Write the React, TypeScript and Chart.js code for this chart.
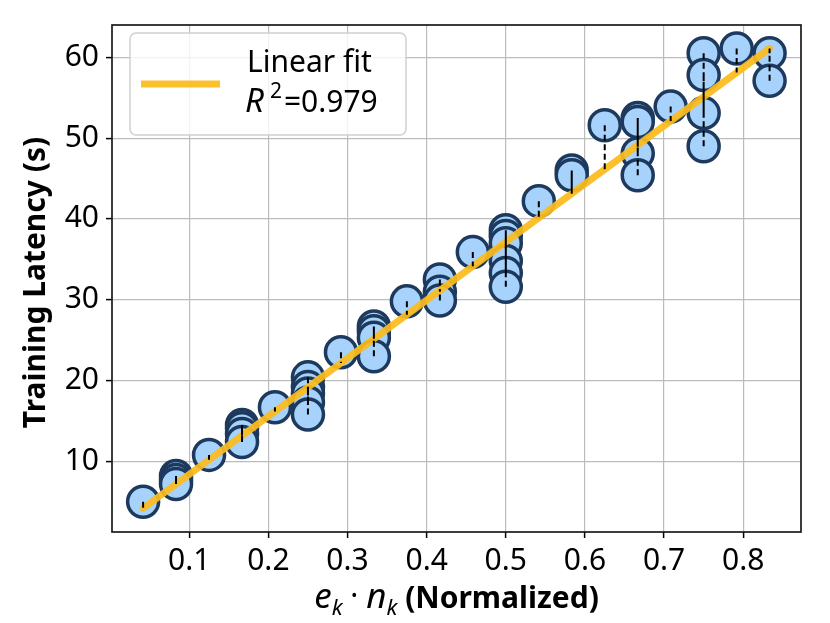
import { useEffect, useRef } from 'react';
import { Chart, registerables } from 'chart.js';
import type { Plugin } from 'chart.js';

Chart.register(...registerables);

// x = e_k * n_k (normalized), y = training latency (s)
const pointX = [
  0.0417,
  0.0833, 0.0833, 0.0833,
  0.125,
  0.1667, 0.1667, 0.1667, 0.1667,
  0.2083,
  0.25, 0.25, 0.25, 0.25, 0.25,
  0.2917,
  0.3333, 0.3333, 0.3333, 0.3333,
  0.375,
  0.4167, 0.4167, 0.4167,
  0.4583,
  0.5, 0.5, 0.5, 0.5, 0.5, 0.5,
  0.5417,
  0.5833, 0.5833,
  0.625,
  0.6667, 0.6667, 0.6667, 0.6667,
  0.7083,
  0.75, 0.75, 0.75, 0.75,
  0.7917,
  0.8333, 0.8333,
];
const pointY = [
  5.0,
  8.2, 7.7, 7.2,
  10.8,
  14.5, 14.1, 13.4, 12.4,
  16.7,
  20.4, 19.2, 18.4, 17.3, 15.8,
  23.5,
  26.7, 26.1, 25.3, 23.0,
  29.8,
  32.5, 31.0, 29.9,
  35.9,
  38.6, 37.9, 37.0, 34.8, 33.3, 31.6,
  42.2,
  46.0, 45.4,
  51.6,
  52.5, 52.0, 48.1, 45.4,
  53.9,
  60.5, 57.8, 53.1, 49.0,
  61.1,
  60.5, 57.1,
];

// fitted line end points
const fitX = [0.0417, 0.8333];
const fitY = [4.2, 61.1];

const xTicks = [0.1, 0.2, 0.3, 0.4, 0.5, 0.6, 0.7, 0.8];
const yTicks = [10, 20, 30, 40, 50, 60];

const legendLabel = 'Linear fit';
const r2Value = '=0.979';

const FONT = '"Noto Sans"';
const ORANGE = 'rgba(252, 187, 28, 0.93)';
const GRID = '#bcbcbc';

const fitAt = (x: number) =>
  fitY[0] + ((x - fitX[0]) * (fitY[1] - fitY[0])) / (fitX[1] - fitX[0]);

const decor: Plugin = {
  id: 'decor',
  afterDatasetsDraw(chart) {
    const { ctx, chartArea: a } = chart;
    ctx.save();

    // frame on all four sides
    ctx.strokeStyle = '#1a1a1a';
    ctx.lineWidth = 1.7;
    ctx.strokeRect(a.left, a.top, a.right - a.left, a.bottom - a.top);

    // legend box
    const bx = 130, by = 33, bw = 276, bh = 102;
    ctx.beginPath();
    ctx.roundRect(bx, by, bw, bh, 6);
    ctx.fillStyle = 'rgba(255,255,255,0.8)';
    ctx.fill();
    ctx.strokeStyle = '#d0d0d0';
    ctx.lineWidth = 1.5;
    ctx.stroke();

    ctx.beginPath();
    ctx.moveTo(141, 84);
    ctx.lineTo(220, 84);
    ctx.strokeStyle = ORANGE;
    ctx.lineWidth = 7;
    ctx.stroke();

    ctx.fillStyle = '#000';
    ctx.textBaseline = 'alphabetic';
    ctx.textAlign = 'left';
    ctx.font = `30px ${FONT}`;
    ctx.fillText(legendLabel, 247, 72);
    ctx.font = `italic 33px ${FONT}`;
    ctx.fillText('R', 245, 112);
    const rw = ctx.measureText('R').width;
    ctx.font = `21px ${FONT}`;
    ctx.fillText('2', 245 + rw + 6, 98);
    const sw = ctx.measureText('2').width;
    ctx.font = `30px ${FONT}`;
    ctx.fillText(r2Value, 245 + rw + 6 + sw + 2, 112);

    // y title
    ctx.save();
    ctx.translate(36, (a.top + a.bottom) / 2 + 4);
    ctx.rotate(-Math.PI / 2);
    ctx.textAlign = 'center';
    ctx.textBaseline = 'middle';
    ctx.font = `bold 30px ${FONT}`;
    ctx.fillText('Training Latency (s)', 0, 0);
    ctx.restore();

    // x title: e_k · n_k (Normalized)
    const parts = [
      { t: 'e', f: `italic 35px ${FONT}`, dy: 0 },
      { t: 'k', f: `italic 22px ${FONT}`, dy: 7 },
      { t: ' · ', f: `30px ${FONT}`, dy: -2 },
      { t: 'n', f: `italic 35px ${FONT}`, dy: 0 },
      { t: 'k', f: `italic 22px ${FONT}`, dy: 7 },
      { t: ' (Normalized)', f: `bold 30px ${FONT}`, dy: 0 },
    ];
    let total = 0;
    const widths = parts.map(p => {
      ctx.font = p.f;
      const w = ctx.measureText(p.t).width;
      total += w;
      return w;
    });
    let x = (a.left + a.right) / 2 - total / 2;
    parts.forEach((p, i) => {
      ctx.font = p.f;
      ctx.fillText(p.t, x, 608 + p.dy);
      x += widths[i];
    });

    ctx.restore();
  },
};

export default function App() {
  const canvasRef = useRef<HTMLCanvasElement>(null);

  useEffect(() => {
    if (!canvasRef.current) return;

    const points = pointX.map((x, i) => ({ x, y: pointY[i] }));
    const residuals = pointX.flatMap((x, i) => [
      { x, y: pointY[i] },
      { x, y: fitAt(x) },
      { x, y: null as number | null },
    ]);
    const fitLine = fitX.map((x, i) => ({ x, y: fitY[i] }));

    const tickFont = { family: FONT, size: 30 };

    const chart = new Chart(canvasRef.current, {
      type: 'line',
      data: {
        datasets: [
          {
            // residual lines to the fit, on top
            data: residuals,
            order: 0,
            borderColor: '#000',
            borderWidth: 2,
            borderDash: [6, 3.5],
            pointRadius: 0,
            spanGaps: false,
            fill: false,
          },
          {
            data: fitLine,
            order: 1,
            borderColor: ORANGE,
            borderWidth: 7,
            borderCapStyle: 'round',
            pointRadius: 0,
            fill: false,
          },
          {
            data: points,
            order: 2,
            showLine: false,
            pointRadius: 15.5,
            pointBorderWidth: 3.5,
            pointBackgroundColor: '#a6d2fb',
            pointBorderColor: '#1d3a5e',
          },
        ],
      },
      options: {
        responsive: true,
        maintainAspectRatio: false,
        animation: false,
        events: [],
        layout: { padding: { top: 15, right: 29, left: 0, bottom: 0 } },
        plugins: { legend: { display: false }, tooltip: { enabled: false } },
        scales: {
          x: {
            type: 'linear',
            min: 0.0024,
            max: 0.873,
            afterBuildTicks: axis => { axis.ticks = xTicks.map(value => ({ value })); },
            afterFit: scale => { scale.height = 91; },
            ticks: {
              color: '#000',
              font: tickFont,
              padding: 5,
              maxRotation: 0,
              autoSkip: false,
              callback: v => (v as number).toFixed(1),
            },
            grid: { color: GRID, lineWidth: 1.2, tickLength: 6, tickColor: '#000', tickWidth: 1.5 },
            border: { display: false },
          },
          y: {
            type: 'linear',
            min: 1.26,
            max: 64.0,
            afterBuildTicks: axis => { axis.ticks = yTicks.map(value => ({ value })); },
            afterFit: scale => { scale.width = 112; },
            ticks: {
              color: '#000',
              font: tickFont,
              padding: 7,
              autoSkip: false,
              callback: v => String(v),
            },
            grid: { color: GRID, lineWidth: 1.2, tickLength: 6, tickColor: '#000', tickWidth: 1.5 },
            border: { display: false },
          },
        },
      },
      plugins: [decor],
    });

    return () => chart.destroy();
  }, []);

  return (
    <div style={{ position: 'absolute', left: 0, top: 0, width: 830, height: 623, background: '#fff' }}>
      <canvas ref={canvasRef} />
    </div>
  );
}
